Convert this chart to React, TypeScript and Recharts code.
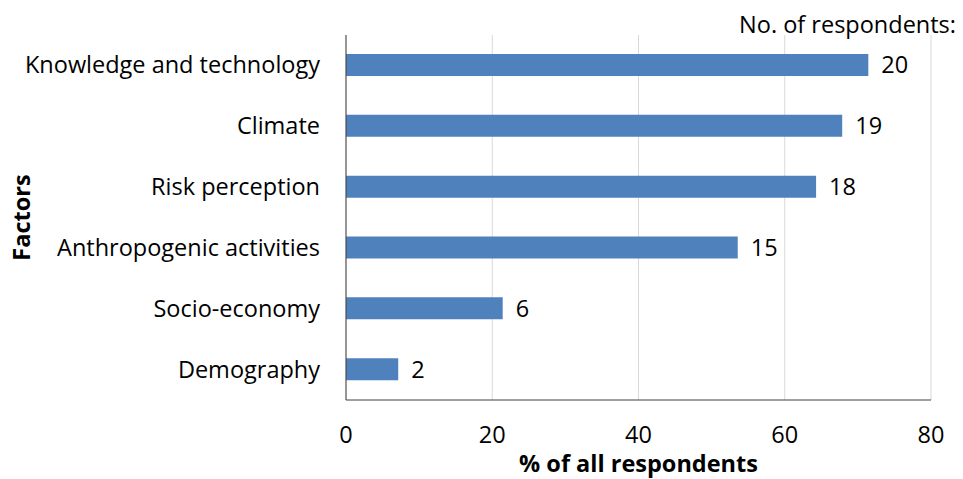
import React from 'react';
import { BarChart, Bar, XAxis, YAxis, CartesianGrid, LabelList, Label } from 'recharts';

// Factors named by respondents, top to bottom
const factors = [
  'Knowledge and technology',
  'Climate',
  'Risk perception',
  'Anthropogenic activities',
  'Socio-economy',
  'Demography',
];

// Number of respondents mentioning each factor
const respondentCounts = [20, 19, 18, 15, 6, 2];

// Total respondents surveyed
const totalRespondents = 28;

const xTicks = [0, 20, 40, 60, 80];

const FONT = '"Open Sans", sans-serif';
const FONT_SIZE = 23.5;
const BAR_COLOR = '#4F81BD';

const data = factors.map((name, i) => ({
  name,
  count: respondentCounts[i],
  pct: (respondentCounts[i] / totalRespondents) * 100,
}));

const YTick = (props: any) => {
  const { x, y, payload } = props;
  return (
    <text x={x - 18} y={y} dy={8} textAnchor="end" fontFamily={FONT} fontSize={FONT_SIZE} fill="#000">
      {payload.value}
    </text>
  );
};

const XTick = (props: any) => {
  const { x, y, payload } = props;
  return (
    <text x={x} y={y + 35} textAnchor="middle" fontFamily={FONT} fontSize={FONT_SIZE} fill="#000">
      {payload.value}
    </text>
  );
};

const App: React.FC = () => {
  return (
    <div style={{ position: 'absolute', left: 0, top: 0, width: 963, height: 479, background: '#fff' }}>
      <div
        style={{
          position: 'absolute',
          right: 7,
          top: 8,
          fontFamily: FONT,
          fontSize: FONT_SIZE,
          lineHeight: '32px',
          color: '#000',
        }}
      >
        No. of respondents:
      </div>
      <BarChart
        width={963}
        height={479}
        data={data}
        layout="vertical"
        margin={{ top: 35, right: 32, left: 0, bottom: 0 }}
        barCategoryGap={0}
      >
        <CartesianGrid horizontal={false} stroke="#d9d9d9" />
        <XAxis
          type="number"
          domain={[0, 80]}
          ticks={xTicks}
          tick={<XTick />}
          tickLine={false}
          axisLine={{ stroke: '#404040' }}
          height={79}
        >
          <Label
            value="% of all respondents"
            position="insideBottom"
            offset={7}
            style={{ fontFamily: FONT, fontSize: FONT_SIZE, fontWeight: 700, fill: '#000' }}
          />
        </XAxis>
        <YAxis
          type="category"
          dataKey="name"
          width={346}
          tick={<YTick />}
          tickLine={false}
          axisLine={{ stroke: '#404040' }}
          interval={0}
        >
          <Label
            value="Factors"
            angle={-90}
            position="insideLeft"
            offset={22}
            style={{ fontFamily: FONT, fontSize: FONT_SIZE, fontWeight: 700, fill: '#000', textAnchor: 'middle' }}
          />
        </YAxis>
        <Bar dataKey="pct" fill={BAR_COLOR} barSize={22} isAnimationActive={false}>
          <LabelList
            dataKey="count"
            position="right"
            offset={13}
            style={{ fontFamily: FONT, fontSize: FONT_SIZE, fill: '#000' }}
          />
        </Bar>
      </BarChart>
    </div>
  );
};

export default App;
